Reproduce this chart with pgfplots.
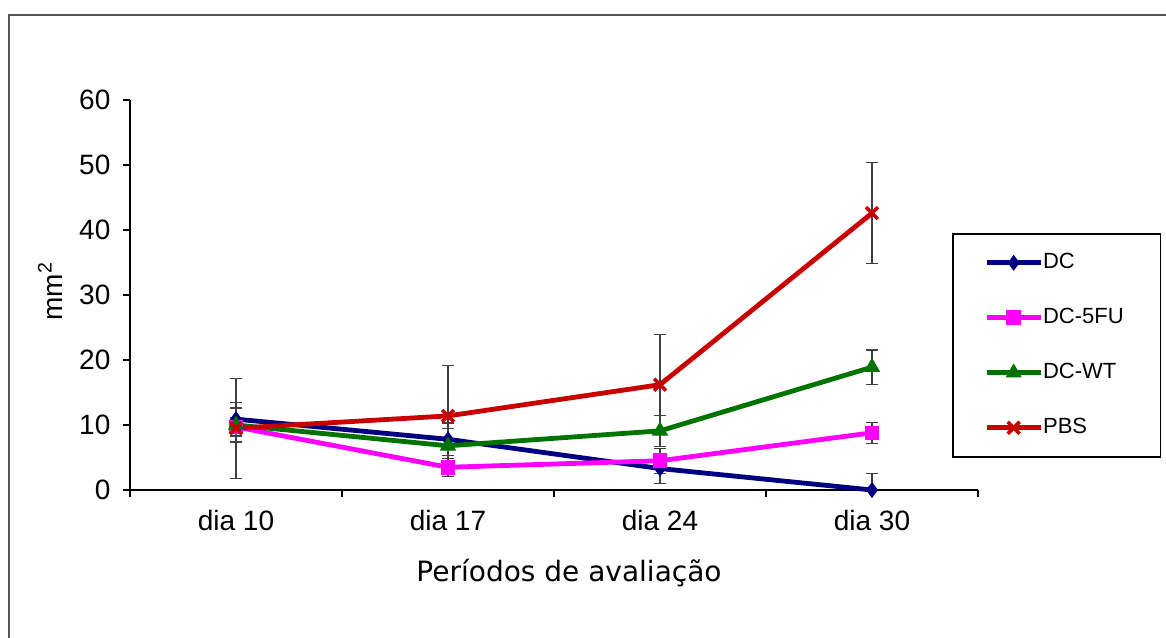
\documentclass[border=0pt]{standalone}
\usepackage{pgfplots}
\pgfplotsset{compat=1.18}
\usepackage{fontspec}
\setmainfont{Liberation Sans}
\newfontfamily\dejavu{DejaVu Sans}
\definecolor{cDC}{HTML}{000080}
\definecolor{cFU}{HTML}{FF00FF}
\definecolor{cWT}{HTML}{007300}
\definecolor{cPBS}{HTML}{C80000}
\definecolor{errgray}{HTML}{404040}
\definecolor{framegray}{HTML}{555555}
\begin{document}
\begin{tikzpicture}
\useasboundingbox (0,0) rectangle (583pt,318.5pt);
\draw[framegray, line width=0.8pt] (4.5pt,-5pt) -- (4.5pt,311pt) -- (590pt,311pt);
\begin{axis}[
  at={(65pt,73.5pt)}, anchor=south west,
  scale only axis, width=424pt, height=195pt,
  xmin=0.5, xmax=4.5, ymin=0, ymax=60,
  clip=false,
  axis x line*=bottom, axis y line*=left,
  axis line style={-, line width=0.8pt, black},
  tick align=outside, major tick length=3.5pt,
  tick style={line width=0.8pt, black},
  ytick={0,10,...,60},
  xtick={0.5,1.5,2.5,3.5,4.5}, xticklabels={},
  extra x ticks={1,2,3,4},
  extra x tick labels={dia 10,dia 17,dia 24,dia 30},
  extra x tick style={major tick length=0pt, tick style={draw=none},
     xticklabel style={yshift=-6.5pt}},
  tick label style={font=\fontsize{14}{16}\selectfont},
  yticklabel style={xshift=-2.8pt},
  /pgf/number format/assume math mode=true,
  ylabel={mm\textsuperscript{2}},
  every axis y label/.style={at={(axis description cs:-0.0943,0.51)}, rotate=90, anchor=center, font=\fontsize{14}{16}\selectfont},
  xlabel={Períodos de avaliação},
  every axis x label/.style={at={(axis description cs:0.5177,-0.213)}, anchor=center, font=\dejavu\fontsize{14}{16}\selectfont},
  legend style={at={(0.9693,0.659)}, anchor=north west, draw=black, line width=0.8pt,
     inner xsep=15.75pt, inner ysep=9.25pt, row sep=17pt, column sep=0pt,
     font=\fontsize{11}{13}\selectfont,
     nodes={inner sep=0pt, text height=8pt, text depth=2.5pt, text width=43pt, xshift=2.5pt}},
  legend cell align=left,
  legend image code/.code={\draw[mark repeat=2,mark phase=2,#1] plot coordinates {(0pt,0pt) (13.5pt,0pt) (27pt,0pt)};},
  error bars/y dir=both, error bars/y explicit,
  error bars/error bar style={line width=0.6pt, errgray},
  error bars/error mark options={errgray, mark size=3pt, line width=0.6pt, rotate=90},
]
\addplot[cDC, line width=2.4pt, mark=diamond*, mark size=3.6pt, mark options={solid, fill=cDC, line width=0.5pt}]
 coordinates {(1,10.9) +- (0,2.6) (2,7.8) +- (0,2.5) (3,3.3) +- (0,2.3) (4,0) += (0,2.5) -= (0,0)};
\addlegendentry{DC}
\addplot[cFU, line width=2.4pt, mark=square*, mark size=3.4pt, mark options={solid, fill=cFU, line width=0.5pt}]
 coordinates {(1,9.7) +- (0,1.5) (2,3.5) +- (0,1.4) (3,4.5) +- (0,1.9) (4,8.8) +- (0,1.6)};
\addlegendentry{DC-5FU}
\addplot[cWT, line width=2.4pt, mark=triangle*, mark size=4.2pt, mark options={solid, fill=cWT, line width=0.5pt}]
 coordinates {(1,10.0) +- (0,2.6) (2,6.8) +- (0,2.6) (3,9.1) +- (0,2.4) (4,18.9) +- (0,2.65)};
\addlegendentry{DC-WT}
\addplot[cPBS, line width=2.4pt, mark=x, mark size=4.2pt, mark options={solid, line width=1.8pt}]
 coordinates {(1,9.5) +- (0,7.7) (2,11.4) +- (0,7.7) (3,16.2) +- (0,7.7) (4,42.6) +- (0,7.8)};
\addlegendentry{PBS}
\end{axis}
\end{tikzpicture}
\end{document}
